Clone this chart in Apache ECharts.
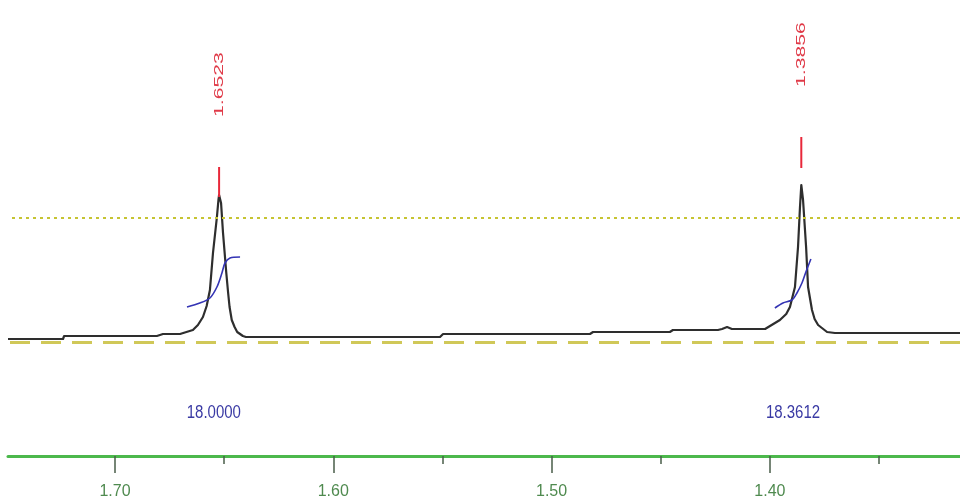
<!DOCTYPE html>
<html>
<head>
<meta charset="utf-8">
<script src="https://cdn.jsdelivr.net/npm/echarts@6/dist/echarts.min.js"></script>
<style>
  html, body { margin: 0; padding: 0; background: #ffffff; }
  #chart { width: 960px; height: 504px; }
</style>
</head>
<body>
<div id="chart"></div>
<script>
// 1H trace: chemical shift (ppm) and intensity (arbitrary units above baseline)
const shiftPpm = [
  1.7490, 1.7238, 1.7233, 1.6808, 1.6780, 1.6702,
  1.6643, 1.6620, 1.6597, 1.6580, 1.6565, 1.6551, 1.6533, 1.6526, 1.6523, 1.6514, 1.6505, 1.6490, 1.6482,
  1.6475, 1.6465, 1.6452, 1.6440, 1.6414,
  1.6400, 1.5511, 1.5497, 1.4824, 1.4810, 1.4458, 1.4444, 1.4238, 1.4219, 1.4196, 1.4174, 1.4022,
  1.4013, 1.3954, 1.3925, 1.3908, 1.3885, 1.3871, 1.3862, 1.3856, 1.3848, 1.3834, 1.3825, 1.3807, 1.3795,
  1.3779, 1.3738, 1.3702, 1.3129
];
const intensity = [
  3, 3, 6, 6, 8, 8,
  12, 17, 25, 36, 52, 89, 125, 142, 147, 139, 109, 69, 50,
  35, 22, 15, 10, 6,
  5, 5, 8, 8, 10, 10, 12, 12, 13, 15, 13, 13,
  15, 22, 28, 35, 55, 95, 135, 157, 142, 95, 55, 32, 23,
  17, 10, 9, 9
];

// Integral traces
const integral1Ppm = [1.6670, 1.6611, 1.6565, 1.6533, 1.6510, 1.6496, 1.6473, 1.6427];
const integral1Val = [35, 39, 44, 55, 69, 79, 84, 85];
const integral2Ppm = [1.3977, 1.3940, 1.3899, 1.3876, 1.3853, 1.3835, 1.3812];
const integral2Val = [34, 39, 42, 49, 59, 70, 83];

// Peak picking
const peakPpm = [1.6523, 1.3856];
const peakLabels = ['1.6523', '1.3856'];
const peakMarkLow = [145, 174];
const peakMarkHigh = [175, 205];

// Integral values
const integralLabelPpm = [1.6547, 1.3894];
const integralLabels = ['18.0000', '18.3612'];
const integralLabelLevel = -71;

// Reference levels
const thresholdLevel = 124;
const baselineLevel = 0;

// Axis ticks
const majorTicks = [1.70, 1.60, 1.50, 1.40];
const minorTicks = [1.65, 1.55, 1.45, 1.35];
const xMin = 1.3129, xMax = 1.7490;
const yMin = -114, yMax = 342;

const spectrum = shiftPpm.map((p, i) => [p, intensity[i]]);
const integral1 = integral1Ppm.map((p, i) => [p, integral1Val[i]]);
const integral2 = integral2Ppm.map((p, i) => [p, integral2Val[i]]);

const chart = echarts.init(document.getElementById('chart'), null, { renderer: 'canvas' });

const baseX = {
  type: 'value', min: xMin, max: xMax, inverse: true, position: 'bottom',
  splitLine: { show: false }
};

chart.setOption({
  backgroundColor: '#ffffff',
  animation: false,
  grid: { left: 8, right: 0, top: 0, bottom: 48, containLabel: false },
  xAxis: [
    Object.assign({}, baseX, {
      axisLine: { show: true, onZero: false, lineStyle: { color: '#4cb84c', width: 3 } },
      axisTick: { show: true, customValues: majorTicks, length: 17, lineStyle: { color: '#4a5e4a', width: 1.5 } },
      axisLabel: {
        customValues: majorTicks,
        formatter: v => Number(v).toFixed(2),
        margin: 28, fontSize: 16,
        fontFamily: '"Liberation Sans", Arial, sans-serif',
        color: '#4f8a4f'
      }
    }),
    Object.assign({}, baseX, {
      axisLine: { show: false, onZero: false },
      axisTick: { show: true, customValues: minorTicks, length: 8, lineStyle: { color: '#4a5e4a', width: 1.5 } },
      axisLabel: { show: false }
    })
  ],
  yAxis: { type: 'value', min: yMin, max: yMax, show: false },
  series: [
    {
      type: 'line', name: 'levels', data: [], silent: true,
      markLine: {
        silent: true, symbol: 'none', label: { show: false }, animation: false,
        data: [
          { yAxis: thresholdLevel, lineStyle: { color: '#c6c432', width: 2, type: [3, 4] } },
          { yAxis: baselineLevel, lineStyle: { color: '#d0c858', width: 3, type: [20, 11] } }
        ]
      }
    },
    {
      type: 'line', name: 'spectrum', data: spectrum, showSymbol: false, silent: true,
      lineStyle: { color: '#2e2e2e', width: 2.2, join: 'round' }, z: 3
    },
    {
      type: 'line', name: 'integral1', data: integral1, showSymbol: false, silent: true, smooth: 0.3,
      lineStyle: { color: '#3434b4', width: 1.6 }, z: 4
    },
    {
      type: 'line', name: 'integral2', data: integral2, showSymbol: false, silent: true, smooth: 0.3,
      lineStyle: { color: '#3434b4', width: 1.6 }, z: 4
    },
    {
      type: 'custom', name: 'peaks', silent: true, z: 5,
      data: peakPpm.map((p, i) => [p, peakMarkLow[i], peakMarkHigh[i], i]),
      encode: { x: 0, y: [1, 2] },
      renderItem: function (params, api) {
        const lo = api.coord([api.value(0), api.value(1)]);
        const hi = api.coord([api.value(0), api.value(2)]);
        const i = api.value(3);
        return {
          type: 'group',
          children: [
            { type: 'line', shape: { x1: lo[0], y1: lo[1], x2: hi[0], y2: hi[1] },
              style: { stroke: '#e8283a', lineWidth: 2 } },
            { type: 'text', x: hi[0], y: hi[1] - 50, rotation: Math.PI / 2, scaleX: 1.63,
              style: { text: peakLabels[i], fill: '#e03a48', font: '13px "Liberation Sans", Arial, sans-serif',
                       align: 'left', verticalAlign: 'middle' } }
          ]
        };
      }
    },
    {
      type: 'custom', name: 'integralValues', silent: true, z: 5,
      data: integralLabelPpm.map((p, i) => [p, integralLabelLevel, i]),
      encode: { x: 0, y: 1 },
      renderItem: function (params, api) {
        const pt = api.coord([api.value(0), api.value(1)]);
        const i = api.value(2);
        return {
          type: 'text', x: pt[0], y: pt[1], scaleY: 1.2,
          style: { text: integralLabels[i], fill: '#3a3aa4', font: '15px "Liberation Sans", Arial, sans-serif',
                   align: 'center', verticalAlign: 'middle' }
        };
      }
    }
  ]
});
</script>
</body>
</html>
